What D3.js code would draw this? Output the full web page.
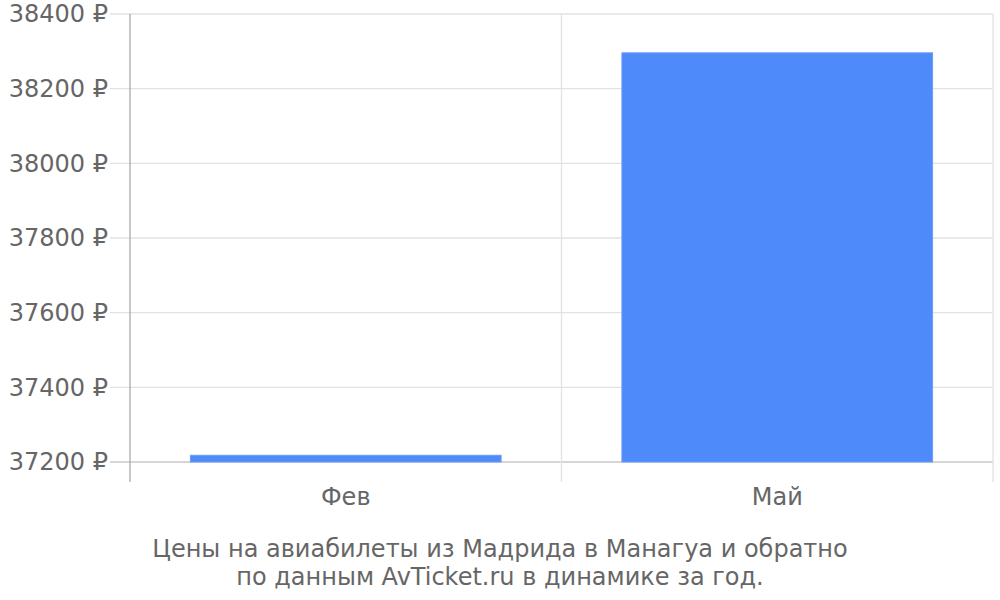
<!DOCTYPE html>
<html>
<head>
<meta charset="utf-8">
<script src="https://cdn.jsdelivr.net/npm/d3@7"></script>
<style>
  body { margin: 0; background: #fff; }
  text { font-family: "DejaVu Sans", sans-serif; fill: #666; }
</style>
</head>
<body>
<svg width="1000" height="600"></svg>
<script>
  const months = ['Фев', 'Май'];
  const prices = [37218, 38296];
  const yTicks = [37200, 37400, 37600, 37800, 38000, 38200, 38400];
  const caption = ['Цены на авиабилеты из Мадрида в Манагуа и обратно',
                   'по данным AvTicket.ru в динамике за год.'];

  const svg = d3.select('svg');
  const plotLeft = 130, plotRight = 993, plotTop = 14, plotBottom = 462;

  const x = d3.scaleBand()
    .domain(months)
    .range([plotLeft, plotRight])
    .paddingInner(0.28)
    .paddingOuter(0.14);

  const y = d3.scaleLinear()
    .domain([37200, 38400])
    .range([plotBottom, plotTop]);

  // horizontal grid
  svg.append('g').selectAll('line')
    .data(yTicks)
    .enter().append('line')
      .attr('x1', plotLeft - 20)
      .attr('x2', plotRight)
      .attr('y1', d => y(d))
      .attr('y2', d => y(d))
      .attr('stroke', d => d === 37200 ? '#c8c8c8' : '#e2e2e2')
      .attr('stroke-width', 1.3);

  // vertical grid at band edges
  const edges = [plotLeft, (plotLeft + plotRight) / 2, plotRight];
  svg.append('g').selectAll('line')
    .data(edges)
    .enter().append('line')
      .attr('x1', d => d)
      .attr('x2', d => d)
      .attr('y1', plotTop)
      .attr('y2', plotBottom + 20)
      .attr('stroke', (d, i) => i === 0 ? '#aaa' : '#e2e2e2')
      .attr('stroke-width', 1.3);

  // y labels
  svg.append('g').selectAll('text')
    .data(yTicks)
    .enter().append('text')
      .attr('x', 108)
      .attr('y', d => y(d))
      .attr('dy', '0.35em')
      .attr('text-anchor', 'end')
      .attr('font-size', '24px')
      .text(d => d + ' ₽');

  // bars
  svg.append('g').selectAll('rect')
    .data(months)
    .enter().append('rect')
      .attr('x', d => x(d))
      .attr('width', x.bandwidth())
      .attr('y', (d, i) => y(prices[i]))
      .attr('height', (d, i) => y(37200) - y(prices[i]))
      .attr('fill', '#4e8af9')
      .attr('stroke', '#6b9cf8')
      .attr('stroke-width', 1);

  // x labels
  svg.append('g').selectAll('text')
    .data(months)
    .enter().append('text')
      .attr('x', d => x(d) + x.bandwidth() / 2)
      .attr('y', 505)
      .attr('text-anchor', 'middle')
      .attr('font-size', '24px')
      .text(d => d);

  // caption
  svg.append('g').selectAll('text')
    .data(caption)
    .enter().append('text')
      .attr('x', 500)
      .attr('y', (d, i) => 557 + i * 28)
      .attr('text-anchor', 'middle')
      .attr('font-size', '24px')
      .text(d => d);
</script>
</body>
</html>
